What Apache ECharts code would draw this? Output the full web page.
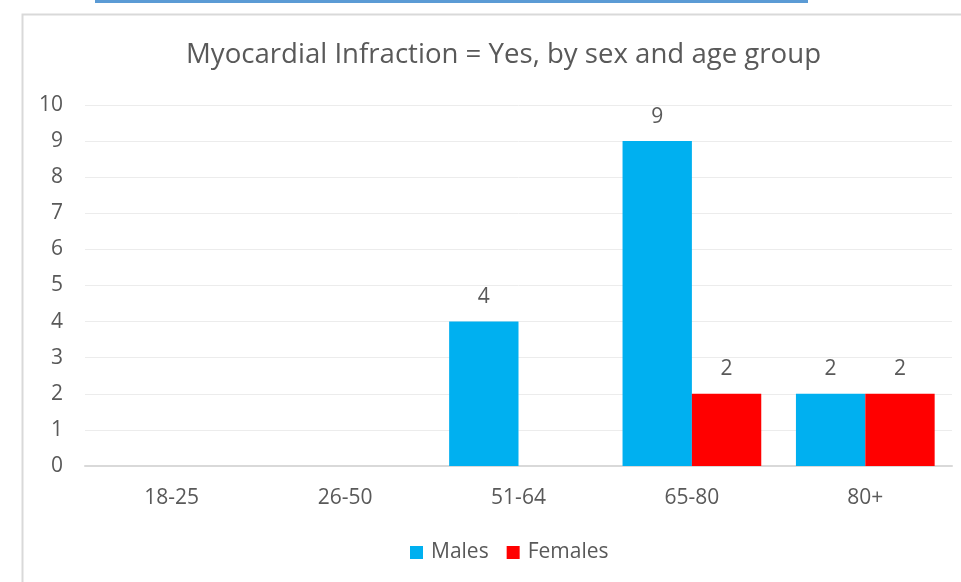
<!DOCTYPE html>
<html>
<head>
<meta charset="utf-8">
<script src="https://cdn.jsdelivr.net/npm/echarts@6/dist/echarts.min.js"></script>
<style>
  html, body { margin: 0; padding: 0; background: #ffffff; }
  #chart { width: 961px; height: 582px; }
</style>
</head>
<body>
<div id="chart"></div>
<script>
// Age groups along the horizontal axis
const ageGroups = ['18-25', '26-50', '51-64', '65-80', '80+'];
// Counts of myocardial infarction = Yes (null = no cases recorded)
const males = [null, null, 4, 9, 2];
const females = [null, null, null, 2, 2];
// Value axis ticks
const yMin = 0, yMax = 10, yStep = 1;

const textColor = '#595959';
const fontFamily = '"Open Sans", "Liberation Sans", sans-serif';
const fontSize = 21;

const chart = echarts.init(document.getElementById('chart'), null, { renderer: 'canvas' });

const barLabel = {
  show: true,
  position: 'top',
  distance: 14,
  color: textColor,
  fontSize: fontSize,
  fontFamily: fontFamily
};

chart.setOption({
  backgroundColor: '#ffffff',
  animation: false,
  title: {
    text: 'Myocardial Infraction = Yes, by sex and age group',
    left: 181,
    top: 36,
    textStyle: { color: textColor, fontSize: 27.6, fontWeight: 'normal', fontFamily: fontFamily }
  },
  graphic: [
    { type: 'rect', left: 95, top: 0, shape: { width: 713, height: 3 }, style: { fill: '#5b9bd5' } },
    { type: 'rect', left: 20, top: 12, shape: { width: 960, height: 600 }, style: { fill: 'none', stroke: '#d9d9d9', lineWidth: 2 } }
  ],
  legend: {
    bottom: 14,
    left: 405,
    itemWidth: 13,
    itemHeight: 13,
    itemGap: 18,
    icon: 'rect',
    textStyle: { color: textColor, fontSize: fontSize, fontFamily: fontFamily, padding: [0, 0, 0, 3] },
    data: ['Males', 'Females']
  },
  grid: { left: 85, right: 9, top: 105, bottom: 116 },
  xAxis: {
    type: 'category',
    data: ageGroups,
    axisLine: { lineStyle: { color: '#d9d9d9', width: 2 } },
    axisTick: { show: false },
    axisLabel: { color: textColor, fontSize: fontSize, margin: 22, fontFamily: fontFamily }
  },
  yAxis: {
    type: 'value',
    min: yMin,
    max: yMax,
    interval: yStep,
    axisLine: { show: false },
    axisTick: { show: false },
    axisLabel: { color: textColor, fontSize: fontSize, margin: 22, fontFamily: fontFamily },
    splitLine: { lineStyle: { color: '#ececec', width: 1 } }
  },
  series: [
    {
      name: 'Males',
      type: 'bar',
      data: males,
      barGap: '0%',
      barCategoryGap: '20%',
      itemStyle: { color: '#00b0f0' },
      label: barLabel
    },
    {
      name: 'Females',
      type: 'bar',
      data: females,
      barGap: '0%',
      barCategoryGap: '20%',
      itemStyle: { color: '#ff0000' },
      label: barLabel
    }
  ]
});
</script>
</body>
</html>
